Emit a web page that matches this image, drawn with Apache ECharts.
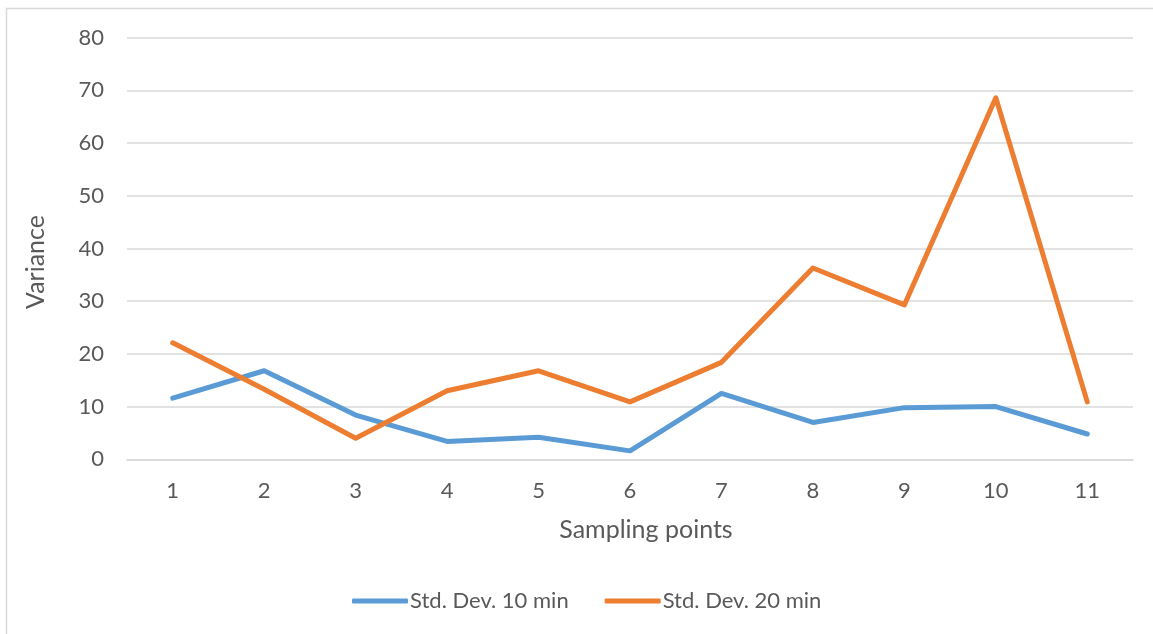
<!DOCTYPE html>
<html>
<head>
<meta charset="utf-8">
<script src="https://cdn.jsdelivr.net/npm/echarts@6/dist/echarts.min.js"></script>
<style>
  html, body { margin: 0; padding: 0; background: #fff; }
  #chart { width: 1153px; height: 634px; }
</style>
</head>
<body>
<div id="chart"></div>
<script>
// Sampling points along the x axis
const categories = ['1', '2', '3', '4', '5', '6', '7', '8', '9', '10', '11'];
// Variance values per sampling point
const stdDev10 = [11.6, 16.8, 8.4, 3.4, 4.2, 1.6, 12.5, 7.0, 9.8, 10.0, 4.8];
const stdDev20 = [22.1, 13.3, 4.0, 13.0, 16.8, 10.9, 18.4, 36.3, 29.3, 68.6, 10.9];
const seriesNames = ['Std. Dev. 10 min', 'Std. Dev. 20 min'];
const yTicks = { min: 0, max: 80, interval: 10 };

const FONT = 'Lato, "Open Sans", sans-serif';
const TEXT = '#595959';

const chart = echarts.init(document.getElementById('chart'), null, { renderer: 'canvas' });
chart.setOption({
  animation: false,
  backgroundColor: '#ffffff',
  color: ['#5B9BD5', '#ED7D31'],
  grid: { left: 127, right: 20, top: 37.7, bottom: 174.7, containLabel: false },
  graphic: [
    {
      type: 'rect',
      shape: { x: 6.5, y: 8.5, width: 1200, height: 700 },
      style: { fill: 'none', stroke: '#d9d9d9', lineWidth: 1.5 },
      silent: true, z: -1
    },
    {
      type: 'text',
      x: 36, y: 262, rotation: Math.PI / 2,
      style: { text: 'Variance', fill: TEXT, font: '25px ' + FONT, align: 'center', verticalAlign: 'middle' }
    },
    {
      type: 'text',
      x: 646, y: 530,
      style: { text: 'Sampling points', fill: TEXT, font: '25px ' + FONT, align: 'center', verticalAlign: 'middle' }
    }
  ],
  legend: {
    left: 347, top: 585,
    itemWidth: 56, itemHeight: 5, itemGap: 36,
    icon: 'roundRect',
    textStyle: { color: TEXT, fontFamily: FONT, fontSize: 22, padding: [0, 0, 0, -3] },
    data: seriesNames
  },
  xAxis: {
    type: 'category',
    data: categories,
    boundaryGap: true,
    axisLine: { show: true, lineStyle: { color: '#d9d9d9', width: 1.5 } },
    axisTick: { show: false },
    axisLabel: { color: TEXT, fontFamily: FONT, fontSize: 22, margin: 21 }
  },
  yAxis: {
    type: 'value',
    min: yTicks.min, max: yTicks.max, interval: yTicks.interval,
    axisLine: { show: false },
    axisTick: { show: false },
    splitLine: { lineStyle: { color: '#d9d9d9', width: 1.5 } },
    axisLabel: { color: TEXT, fontFamily: FONT, fontSize: 22, margin: 23 }
  },
  series: [
    {
      name: seriesNames[0], type: 'line', data: stdDev10,
      symbol: 'none', lineStyle: { width: 5, cap: 'round', join: 'round' }
    },
    {
      name: seriesNames[1], type: 'line', data: stdDev20,
      symbol: 'none', lineStyle: { width: 5, cap: 'round', join: 'round' }
    }
  ]
});
</script>
</body>
</html>
